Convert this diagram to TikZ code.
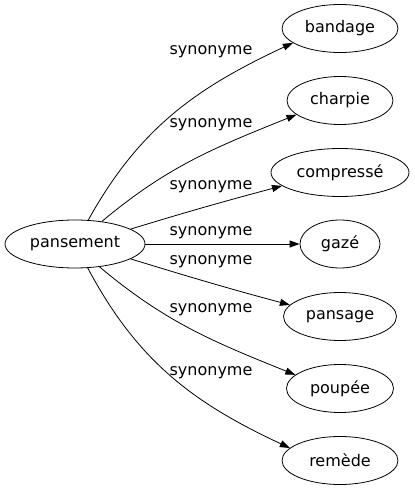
\documentclass[tikz,border=0pt]{standalone}
\usepackage{fontspec}
\setmainfont{DejaVu Sans}
\usetikzlibrary{shapes.geometric,arrows.meta}
\begin{document}
\begin{tikzpicture}[x=1pt,y=1pt,
  word/.style={ellipse,draw,line width=0.8pt,inner sep=0pt,minimum height=48pt,font=\fontsize{16}{19}\selectfont},
  lbl/.style={font=\fontsize{16}{19}\selectfont,inner sep=0pt},
  link/.style={line width=0.8pt,-{Triangle[length=10pt,width=7pt]}}]
\useasboundingbox (0,0) rectangle (415,491);
\node[word,minimum width=140pt] (p) at (75,247) {pansement};
\node[word,minimum width=116pt] (b) at (340,462.5) {bandage};
\node[word,minimum width=106pt] (c) at (340,390.5) {charpie};
\node[word,minimum width=138pt] (co) at (340,318.5) {compressé};
\node[word,minimum width=80pt] (g) at (340,247) {gazé};
\node[word,minimum width=113pt] (pa) at (340,174.5) {pansage};
\node[word,minimum width=107pt] (po) at (340,102.5) {poupée};
\node[word,minimum width=116pt] (r) at (340,30.5) {remède};
\draw[link] (p.61) to[out=61,in=205] (b.197);
\draw[link] (p.40) to[out=40,in=202] (c.198);
\draw[link] (p.15) to[out=17,in=195] (co.193);
\draw[link] (p.0) -- (g.180);
\draw[link] (p.-15) to[out=-17,in=165] (pa.167);
\draw[link] (p.-43) to[out=-40,in=158] (po.163);
\draw[link] (p.-62) to[out=-62,in=155] (r.166);
\node[lbl] (l1) at (211,439) {synonyme};
\node[lbl] (l2) at (211,366) {synonyme};
\node[lbl] (l3) at (211,304) {synonyme};
\node[lbl] (l4) at (211,258) {synonyme};
\node[lbl] (l5) at (211,229) {synonyme};
\node[lbl] (l6) at (211,181) {synonyme};
\node[lbl] (l7) at (211,118) {synonyme};
\end{tikzpicture}
\end{document}
